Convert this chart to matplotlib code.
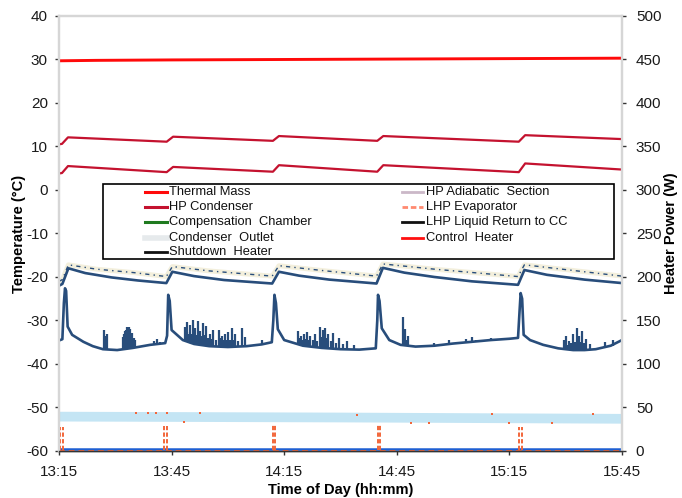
import matplotlib
matplotlib.use("Agg")
import matplotlib.pyplot as plt
from matplotlib.lines import Line2D
from matplotlib.patches import Rectangle

plt.rcParams['font.family'] = ['Liberation Sans', 'DejaVu Sans']
plt.rcParams['axes.unicode_minus'] = False

# ---- axis definitions (time in minutes after 13:15) ----
time_ticks = [0, 30, 60, 90, 120, 150]
time_labels = ["13:15", "13:45", "14:15", "14:45", "15:15", "15:45"]
temp_ticks = [-60, -50, -40, -30, -20, -10, 0, 10, 20, 30, 40]
power_ticks = [0, 50, 100, 150, 200, 250, 300, 350, 400, 450, 500]

# ---- temperature traces (deg C) ----
thermal_t = [0, 10, 30, 60, 90, 120, 150]
thermal_v = [29.7, 29.8, 29.9, 30.0, 30.1, 30.2, 30.3]

hp_upper_t = [0, 0.8, 2.4, 28.7, 30.4, 57.0, 58.6, 84.8, 86.4, 122.5, 124.2, 150]
hp_upper_v = [10.5, 10.6, 12.1, 11.1, 12.25, 11.3, 12.4, 11.3, 12.4, 11.1, 12.6, 11.7]

hp_lower_t = [0, 0.8, 2.4, 28.7, 30.4, 57.0, 58.6, 84.8, 86.4, 122.5, 124.2, 150]
hp_lower_v = [3.8, 3.9, 5.5, 4.1, 5.3, 4.2, 5.7, 4.2, 5.7, 4.1, 6.1, 4.7]

ret_t = [0, 0.9, 2.5, 7, 14, 21, 28.6, 30.2, 36, 44, 56.8, 58.6, 64, 72, 84.6,
         86.3, 92, 100, 110, 122.3, 124, 130, 140, 150]
ret_v = [-22.0, -21.6, -18.0, -19.1, -20.1, -20.8, -21.4, -18.8, -19.8, -20.7, -21.5,
         -18.8, -19.7, -20.6, -21.5, -17.9, -19.0, -20.0, -21.0, -21.8, -18.4, -19.5,
         -20.6, -21.4]

evap_t = [0, 0.9, 2.5, 10, 20, 28.6, 30.2, 40, 56.8, 58.6, 70, 84.6, 86.3, 100,
          122.3, 124, 137, 150]
evap_v = [-21.0, -20.6, -17.2, -18.2, -19.0, -19.9, -17.6, -18.6, -19.8, -17.4,
          -18.5, -19.8, -17.0, -18.2, -19.9, -17.2, -18.5, -19.8]

cc_t = [0, 0.9, 1.3, 1.6, 1.9, 2.3, 3.5, 6.5, 9, 11.7, 15.5, 19.7, 24.3, 28.3,
        28.8, 29.1, 29.5, 30.0, 33.0, 36, 40, 45, 50, 54, 56.7,
        57.1, 57.4, 57.8, 58.3, 60, 65, 70, 75, 80, 84.4,
        84.8, 85.0, 85.4, 86.0, 88, 91, 95, 100, 105, 110, 115, 120, 122.3,
        122.7, 123.0, 123.4, 123.8, 125.5, 129, 133, 137, 140, 143, 147, 150]
cc_v = [-34.6, -34.3, -26.0, -22.6, -23.2, -31.4, -33.3, -34.9, -35.9, -36.6, -36.8,
        -36.3, -35.6, -35.2,
        -33.5, -24.1, -25.5, -32.2, -34.5, -35.4, -35.9, -36.1, -35.9, -35.5, -35.0,
        -30.0, -24.1, -26.0, -32.0, -34.5, -35.8, -36.3, -36.6, -36.7, -36.4,
        -30.0, -24.1, -25.5, -31.8, -34.5, -35.6, -36.0, -35.8, -35.3, -34.9, -34.5,
        -34.2, -34.0,
        -28.0, -23.7, -25.0, -33.3, -34.5, -35.6, -36.4, -36.8, -36.8, -36.6, -35.8,
        -34.5]

# short boiling spikes on the compensation chamber trace: time, foot, peak
spike_t = [11.9, 12.3, 12.7, 17.0, 17.3, 17.6, 17.9, 18.2, 18.6, 19.0, 19.4, 19.9, 20.3,
           25.2, 26.0, 26.8,
           33.6, 34.0, 34.2, 34.6, 35.0, 35.3, 35.6, 35.9, 36.2, 36.6, 37.0, 37.3, 37.6,
           38.0, 38.4, 38.8, 39.2, 39.7, 40.2, 40.6, 41.0, 41.8, 42.6, 43.0, 43.4, 43.8,
           44.2, 44.6, 45.0, 45.6, 46.2, 46.6, 47.0, 47.8, 48.7, 49.5, 54.0,
           63.7, 64.1, 64.5, 64.9, 65.3, 65.7, 66.1, 66.5, 67.0, 67.6, 68.2, 68.8, 69.5,
           69.9, 70.3, 70.6, 71.0, 71.4, 71.8, 72.4, 73.0, 73.8, 74.6, 75.6, 76.8, 78.5,
           91.7, 92.0, 92.3, 92.7, 93.1, 100.0, 104.0, 108.5, 110.0, 111.0, 115.0,
           134.5, 134.9, 135.2, 135.6, 136.0, 136.5, 137.0, 137.4, 137.9, 138.2, 138.6,
           139.0, 139.4, 139.8, 140.3, 141.5, 145.5, 147.5]
spike_lo = [-36.6, -36.6, -36.7, -36.6, -36.6, -36.5, -36.5, -36.4, -36.4, -36.3, -36.3,
            -36.2, -36.2,
            -35.4, -35.3, -35.2,
            -34.8, -34.9, -35.0, -35.1, -35.2, -35.3, -35.4, -35.4, -35.5, -35.5, -35.6,
            -35.6, -35.7, -35.7, -35.8, -35.8, -35.8, -35.9, -35.9, -35.9, -36.0, -36.0,
            -36.0, -36.0, -36.0, -36.0, -36.1, -36.1, -36.1, -36.1, -36.1, -36.0, -36.0,
            -36.0, -36.0, -35.9, -35.6,
            -35.6, -35.6, -35.7, -35.7, -35.8, -35.8, -35.9, -35.9, -36.0, -36.0, -36.1,
            -36.1, -36.2, -36.2, -36.3, -36.3, -36.3, -36.3, -36.4, -36.4, -36.4, -36.5,
            -36.5, -36.5, -36.6, -36.6,
            -35.7, -35.7, -35.8, -35.8, -35.9, -35.8, -35.4, -35.0, -34.9, -34.8, -34.5,
            -36.5, -36.5, -36.6, -36.6, -36.6, -36.7, -36.7, -36.8, -36.8, -36.8, -36.8,
            -36.8, -36.8, -36.8, -36.8, -36.7, -36.2, -35.8]
spike_hi = [-32.2, -33.5, -33.0, -33.8, -33.0, -32.5, -32.2, -31.6, -31.4, -32.0, -32.8,
            -34.0, -34.6,
            -34.8, -34.2, -34.9,
            -31.5, -32.6, -30.3, -33.0, -31.0, -33.2, -29.9, -32.8, -31.8, -33.4, -30.2,
            -33.0, -32.5, -33.6, -30.6, -33.4, -31.2, -34.0, -33.0, -34.2, -32.2, -34.4,
            -32.3, -34.0, -33.5, -34.6, -33.0, -34.4, -32.6, -34.6, -31.7, -34.5, -33.2,
            -34.8, -31.7, -33.8, -34.4,
            -32.4, -34.0, -33.5, -34.6, -33.1, -34.2, -32.6, -34.5, -33.6, -34.6, -33.0,
            -34.8, -31.4, -33.8, -32.3, -34.5, -31.8, -34.0, -33.1, -34.8, -32.8, -35.2,
            -34.0, -35.4, -34.8, -35.6,
            -29.1, -33.0, -32.0, -34.4, -33.5, -35.2, -34.6, -34.3, -33.9, -34.4, -34.1,
            -34.6, -35.4, -33.6, -35.6, -34.8, -35.2, -33.2, -35.0, -31.8, -34.6, -33.5,
            -35.0, -32.5, -35.2, -34.2, -35.3, -34.9, -34.6]

outlet_t = [0, 75, 150]
outlet_v = [-52.1, -52.3, -52.6]

adiabatic_t = [0, 150]
adiabatic_v = [-59.6, -59.6]

# scattered evaporator readings near the condenser outlet band
evap_dot_t = [20.4, 23.8, 25.8, 28.8, 37.7, 33.3, 79.3, 93.7, 98.6, 115.4, 119.9, 131.4, 142.2]
evap_dot_v = [-51.2, -51.3, -51.2, -51.2, -51.3, -53.4, -51.7, -53.5, -53.5, -51.6,
              -53.5, -53.5, -51.6]

# ---- heater power (W) ----
ctrl_t = [0, 150]
ctrl_p = [0.3, 0.3]
burst_t = [0.4, 1.2, 28.0, 28.7, 56.9, 57.5, 84.9, 85.4, 122.5, 123.3]
burst_p = [28, 28, 29, 29, 30, 30, 30, 30, 28, 28]

# ---- colours ----
RED = '#ff0a0a'
CRIMSON = '#c4122f'
NAVY = '#284d7b'
BEIGE = '#f3efdc'
LIGHTBLUE = '#c4e5f4'
BLUE = '#1e5fd2'
ORANGE = '#f2663a'
GREY = '#d6d6d6'

fig = plt.figure(figsize=(6.82, 4.98), dpi=100)
ax = fig.add_axes([0.0865, 0.0944, 0.8255, 0.8735])
ax2 = ax.twinx()

ax.plot(outlet_t, outlet_v, color=LIGHTBLUE, lw=7, solid_capstyle='butt', zorder=1)
ax.plot(adiabatic_t, adiabatic_v, color=BLUE, lw=1.8, zorder=3)
ax.plot(evap_dot_t, evap_dot_v, ls='none', marker='s', ms=1.6, mew=0, color=ORANGE, zorder=2)

ax.plot(thermal_t, thermal_v, color=RED, lw=2.1, zorder=3)
ax.plot(hp_upper_t, hp_upper_v, color=CRIMSON, lw=1.6, zorder=3)
ax.plot(hp_lower_t, hp_lower_v, color=CRIMSON, lw=1.6, zorder=3)

ax.plot(evap_t, evap_v, color=BEIGE, lw=3.5, zorder=2)
ax.plot(evap_t, evap_v, color=NAVY, lw=1.0, ls=(0, (3, 3, 1, 3)), zorder=3)
ax.plot(ret_t, ret_v, color=NAVY, lw=1.9, zorder=3)
ax.plot(cc_t, cc_v, color=NAVY, lw=1.9, zorder=3)
ax.vlines(spike_t, spike_lo, spike_hi, color=NAVY, lw=1.6, zorder=3)

ax2.plot(ctrl_t, ctrl_p, color=ORANGE, lw=1.4, ls=(0, (3, 2)))
ax2.vlines(burst_t, 1, burst_p, color=ORANGE, lw=1.4, linestyles=[(0, (2.2, 1.2))])

# ---- axes styling ----
ax.set_xlim(0, 150)
ax.set_ylim(-60, 40)
ax2.set_ylim(0, 500)
ax.set_xticks(time_ticks)
ax.set_xticklabels(time_labels)
ax.set_yticks(temp_ticks)
ax2.set_yticks(power_ticks)

for a in (ax, ax2):
    for side in ('left', 'right', 'top'):
        a.spines[side].set_color(GREY)
        a.spines[side].set_linewidth(1.6)
    a.spines['bottom'].set_color('#333333')
    a.spines['bottom'].set_linewidth(1.0)

ax.tick_params(axis='both', labelsize=11, length=3, width=1, color='#333333',
               direction='out')
ax.tick_params(axis='y', pad=5)
ax.tick_params(axis='x', pad=7)
ax2.tick_params(axis='y', labelsize=11, length=3, width=1, color='#333333',
                direction='out', pad=7)
for lbl in ax.get_xticklabels() + ax.get_yticklabels() + ax2.get_yticklabels():
    lbl.set_color('#1a1a1a')

ax.set_ylabel('Temperature (\u00b0C)', fontsize=10.5, fontweight='bold', labelpad=0)
ax2.set_ylabel('Heater Power (W)', fontsize=10.5, fontweight='bold', rotation=90,
               labelpad=2)
ax.set_xlabel('Time of Day (hh:mm)', fontsize=10.5, fontweight='bold', labelpad=3)

# ---- legend box drawn in axes coordinates ----
leg_ax = ax2
leg_ax.add_patch(Rectangle((0.0782, 0.4414), 0.9076, 0.1724, transform=leg_ax.transAxes,
                           facecolor='white', edgecolor='black', lw=1.2, zorder=10))
rows = [0.5961, 0.5616, 0.5257, 0.4903, 0.4568]
col1 = [('Thermal Mass', RED, '-', 2.2),
        ('HP Condenser', CRIMSON, '-', 2.2),
        ('Compensation  Chamber', '#1f7a1f', '-', 2.2),
        ('Condenser  Outlet', '#e6eaec', '-', 4.0),
        ('Shutdown  Heater', '#111111', '-', 2.0)]
col2 = [('HP Adiabatic  Section', '#cbb8c8', '-', 2.0),
        ('LHP Evaporator', '#ff8a70', (0, (2, 1)), 2.0),
        ('LHP Liquid Return to CC', '#111111', '-', 2.0),
        ('Control  Heater', '#ff1010', '-', 2.0)]
for (label, c, ls, lw), y in zip(col1, rows):
    leg_ax.add_line(Line2D([0.1528, 0.1918], [y, y], transform=leg_ax.transAxes,
                           color=c, ls=ls, lw=lw, zorder=11))
    leg_ax.text(0.1954, y, label, transform=leg_ax.transAxes, fontsize=9.3,
                va='center', ha='left', color='#111111', zorder=11)
for (label, c, ls, lw), y in zip(col2, rows):
    leg_ax.add_line(Line2D([0.6092, 0.6465], [y, y], transform=leg_ax.transAxes,
                           color=c, ls=ls, lw=lw, zorder=11))
    leg_ax.text(0.6519, y, label, transform=leg_ax.transAxes, fontsize=9.3,
                va='center', ha='left', color='#111111', zorder=11)

fig.savefig('out.png', dpi=100)
